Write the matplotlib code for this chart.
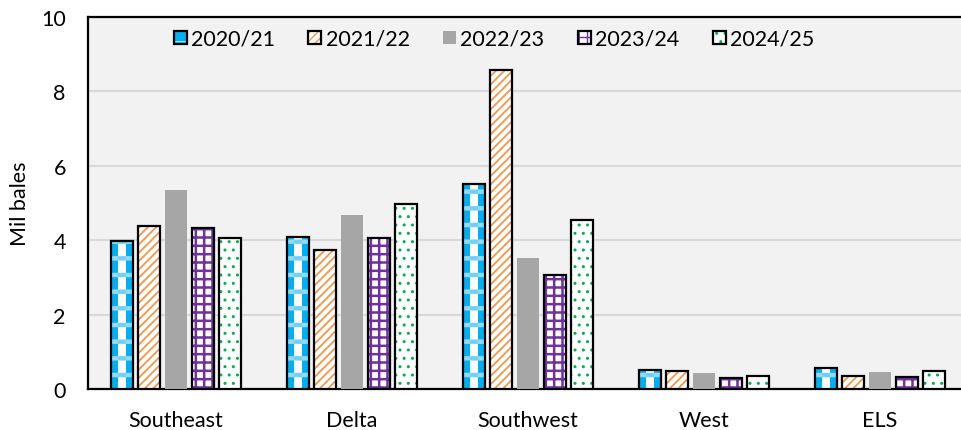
import numpy as np
import matplotlib
matplotlib.use("Agg")
import matplotlib.pyplot as plt
from matplotlib.legend_handler import HandlerTuple

regions = ["Southeast", "Delta", "Southwest", "West", "ELS"]
seasons = ["2020/21", "2021/22", "2022/23", "2023/24", "2024/25"]

s2020 = [3.98, 4.09, 5.50, 0.51, 0.56]
s2021 = [4.39, 3.75, 8.57, 0.48, 0.34]
s2022 = [5.36, 4.68, 3.51, 0.42, 0.47]
s2023 = [4.33, 4.07, 3.07, 0.29, 0.32]
s2024 = [4.07, 4.98, 4.55, 0.36, 0.48]

plt.rcParams['font.family'] = ['Lato', 'DejaVu Sans']
FS = 15.5


def set_hlw(bars, lw):
    for b in bars:
        if hasattr(b, "set_hatch_linewidth"):
            b.set_hatch_linewidth(lw)


fig = plt.figure(figsize=(9.61, 4.31), dpi=100)
ax = fig.add_axes([88 / 961, 41 / 431, 880 / 961, 372 / 431])
ax.set_facecolor("#F2F2F2")

x = np.arange(len(regions))
step = 0.153
width = 0.125
pos = [x + (i - 2) * step for i in range(5)]

# 2020/21: blue sides, white middle stripe, checker bands across
b0 = ax.bar(pos[0], s2020, width, color="#00B0F0", hatch="-",
            edgecolor="#8FDCF8", linewidth=0, zorder=3)
set_hlw(b0, 3.2)
mid = ax.bar(pos[0], s2020, width * 0.36, color="white", hatch="-",
             edgecolor="#70D0F5", linewidth=0, zorder=3)
set_hlw(mid, 3.2)

# 2021/22: orange diagonals
b1 = ax.bar(pos[1], s2021, width, color="white", hatch="////",
            edgecolor="#F79646", linewidth=0, zorder=3)
set_hlw(b1, 1.3)

# 2022/23: plain grey
b2 = ax.bar(pos[2], s2022, width, color="#A6A6A6", linewidth=0, zorder=3)

# 2023/24: purple grid
b3 = ax.bar(pos[3], s2023, width, color="white", hatch="++",
            edgecolor="#7030A0", linewidth=0, zorder=3)
set_hlw(b3, 1.8)

# 2024/25: sparse green dots
b4 = ax.bar(pos[4], s2024, width, color="white", hatch="..",
            edgecolor="#00B050", linewidth=0, zorder=3)

handles = []
for p, vals, fill in zip([pos[0], pos[1], pos[3], pos[4]],
                         [s2020, s2021, s2023, s2024], [b0, b1, b3, b4]):
    outline = ax.bar(p, vals, width, fill=False, edgecolor="black",
                     linewidth=1.6, zorder=4)
    handles.append((fill, outline))
handles.insert(2, b2)

ax.set_xlim(-0.5, 4.5)
ax.set_ylim(0, 10)
ax.set_yticks(np.arange(0, 11, 2))
ax.set_xticks(x)
ax.set_xticklabels(regions)
ax.tick_params(length=0, labelsize=FS, colors="black")
ax.tick_params(axis="y", pad=16)
ax.tick_params(axis="x", pad=15)
ax.yaxis.grid(True, color="#D9D9D9", linewidth=1.5, zorder=0)
ax.set_axisbelow(True)
for side in ["top", "left", "bottom"]:
    ax.spines[side].set_linewidth(1.6)
    ax.spines[side].set_color("black")
ax.spines["right"].set_visible(False)
ax.set_ylabel("Mil bales", fontsize=FS, labelpad=8)

leg = ax.legend(handles, seasons, loc="center", bbox_to_anchor=(494 / 961, 1 - 40 / 431),
                bbox_transform=fig.transFigure, ncol=5, frameon=False,
                fontsize=FS, handlelength=0.6, handleheight=0.6,
                columnspacing=1.55, handletextpad=0.2,
                handler_map={tuple: HandlerTuple(ndivide=1)})

fig.savefig("out.png", dpi=100)
